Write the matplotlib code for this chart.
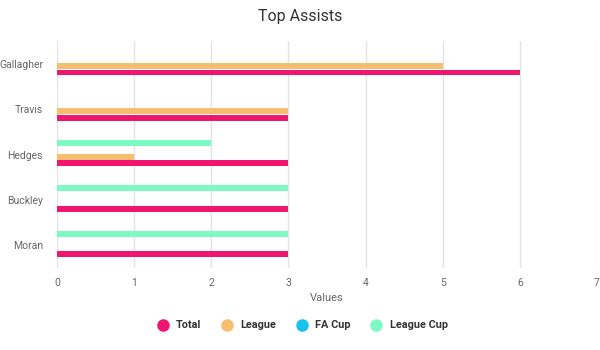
import numpy as np
import matplotlib
matplotlib.use("Agg")
from matplotlib import pyplot as plt
from matplotlib.lines import Line2D

players = ["Gallagher", "Travis", "Hedges", "Buckley", "Moran"]
series_names = ["Total", "League", "FA Cup", "League Cup"]
total = [6, 3, 3, 3, 3]
league = [5, 3, 1, 0, 0]
fa_cup = [0, 0, 0, 0, 0]
league_cup = [0, 0, 2, 3, 3]
colors = ["#f0156f", "#f7be70", "#18c2ea", "#7df9c4"]

plt.rcParams["font.family"] = ["Roboto", "DejaVu Sans"]

fig = plt.figure(figsize=(6, 3.5), dpi=100)
ax = fig.add_axes([0.095, 0.234, 0.9, 0.649])

y = np.arange(len(players))
step = 0.15
height = 0.13
# top to bottom inside each group: League Cup, FA Cup, League, Total
offsets = {"League Cup": -1.5, "FA Cup": -0.5, "League": 0.5, "Total": 1.5}
values = {"Total": total, "League": league, "FA Cup": fa_cup, "League Cup": league_cup}
for name, color in zip(series_names, colors):
    ax.barh(y - 0.03 + offsets[name] * step, values[name], height=height,
            color=color, zorder=3)

ax.set_ylim(len(players) - 0.5, -0.5)
ax.set_yticks(y)
ax.set_yticklabels(players)
ax.set_xlim(0, 7)
ax.set_xticks(range(0, 8))
ax.grid(axis="x", color="#e3e3e3", linewidth=1, zorder=0)
for s in ax.spines.values():
    s.set_visible(False)
ax.tick_params(length=0, colors="#666666", labelsize=7.5)
ax.tick_params(axis="x", pad=7)
ax.tick_params(axis="y", pad=10)
ax.set_xlabel("Values", color="#666666", fontsize=8, labelpad=4)
fig.suptitle("Top Assists", y=0.975, fontsize=11.5, color="#333333")

handles = [Line2D([], [], marker="o", linestyle="none", markersize=8,
                  markerfacecolor=c, markeredgecolor=c) for c in colors]
leg = fig.legend(handles, series_names, loc="center", bbox_to_anchor=(0.502, 0.07),
                 ncol=4, frameon=False, handletextpad=0.5, handlelength=1.5,
                 columnspacing=1.6, prop={"weight": "bold", "size": 7.8})
for t in leg.get_texts():
    t.set_color("#333333")

fig.savefig("out.png", dpi=100)
